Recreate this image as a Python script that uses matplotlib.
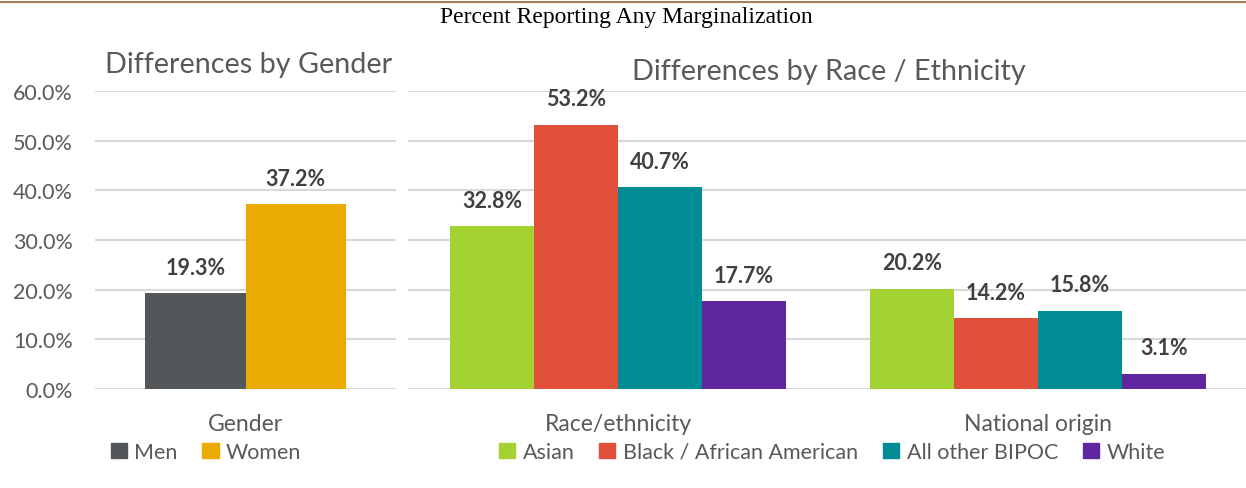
import matplotlib.pyplot as plt
from matplotlib.ticker import FuncFormatter
from matplotlib.patches import Patch

# Data
gender_category = ["Gender"]
gender_series = ["Men", "Women"]
men_values = [19.3]
women_values = [37.2]

race_categories = ["Race/ethnicity", "National origin"]
race_series = ["Asian", "Black / African American", "All other BIPOC", "White"]
asian_values = [32.8, 20.2]
black_values = [53.2, 14.2]
bipoc_values = [40.7, 15.8]
white_values = [17.7, 3.1]

yticks = [0, 10, 20, 30, 40, 50, 60]

gender_colors = ["#54575A", "#EAAA00"]
race_colors = ["#A4D233", "#E0503A", "#008C95", "#5E27A0"]

TEXT = "#595959"
GRID = "#D9D9D9"
FONT = "Lato"

W, H = 1246, 489
fig = plt.figure(figsize=(W / 100, H / 100), dpi=100)


def px_axes(x0, x1, y_top, y_bottom):
    return fig.add_axes([x0 / W, 1 - y_bottom / H, (x1 - x0) / W, (y_bottom - y_top) / H])


def style_axes(ax):
    ax.set_ylim(0, 60)
    ax.set_yticks(yticks)
    ax.grid(axis="y", color=GRID, linewidth=1.5)
    ax.set_axisbelow(True)
    for s in ax.spines.values():
        s.set_visible(False)
    ax.tick_params(length=0)
    ax.tick_params(axis="x", labelsize=16.5, labelcolor=TEXT, pad=17)


def label_bars(ax, bars, vals):
    for b, v in zip(bars, vals):
        ax.annotate(f"{v:.1f}%", (b.get_x() + b.get_width() / 2, v), xytext=(0, 11),
                    textcoords="offset points", ha="center", va="bottom",
                    fontsize=15.5, fontweight="bold", color="#404040", family=FONT)


# Left panel: gender
ax1 = px_axes(95, 396, 92, 390)
style_axes(ax1)
ax1.set_xlim(-0.5, 0.5)
bw = 0.333
for i, (vals, c) in enumerate(zip([men_values, women_values], gender_colors)):
    xs = [k + (i - 0.5) * bw for k in range(len(gender_category))]
    bars = ax1.bar(xs, vals, width=bw, color=c)
    label_bars(ax1, bars, vals)
ax1.set_xticks(range(len(gender_category)))
ax1.set_xticklabels(gender_category, family=FONT)
ax1.yaxis.set_major_formatter(FuncFormatter(lambda v, p: f"{v:.1f}%"))
ax1.tick_params(axis="y", labelsize=15.5, labelcolor=TEXT, pad=16)
for lab in ax1.get_yticklabels():
    lab.set_family(FONT)

# Right panel: race / ethnicity
ax2 = px_axes(408, 1248, 92, 390)
style_axes(ax2)
ax2.set_xlim(-0.5, 1.5)
bw = 0.2
all_vals = [asian_values, black_values, bipoc_values, white_values]
for i, (vals, c) in enumerate(zip(all_vals, race_colors)):
    xs = [k + (i - 1.5) * bw for k in range(len(race_categories))]
    bars = ax2.bar(xs, vals, width=bw, color=c)
    label_bars(ax2, bars, vals)
ax2.set_xticks(range(len(race_categories)))
ax2.set_xticklabels(race_categories, family=FONT)
ax2.set_yticklabels([])

# Titles
fig.text(626 / W, 1 - 18 / H, "Percent Reporting Any Marginalization", ha="center", va="center",
         fontsize=17, family="Liberation Serif", color="black")
fig.text(105 / W, 1 - 65 / H, "Differences by Gender", ha="left", va="center",
         fontsize=20.7, family=FONT, color=TEXT)
fig.text(632 / W, 1 - 72 / H, "Differences by Race / Ethnicity", ha="left", va="center",
         fontsize=20.7, family=FONT, color=TEXT)

# Legends
leg_kw = dict(loc="center", frameon=False, handlelength=0.75, handleheight=0.75,
              handletextpad=0.35, columnspacing=1.15, borderpad=0,
              prop={"family": FONT, "size": 15.5})
h1 = [Patch(color=c, label=l) for c, l in zip(gender_colors, gender_series)]
leg1 = fig.legend(handles=h1, ncol=2, bbox_to_anchor=(206 / W, 1 - 453 / H), **leg_kw)
h2 = [Patch(color=c, label=l) for c, l in zip(race_colors, race_series)]
leg2 = fig.legend(handles=h2, ncol=4, bbox_to_anchor=(832 / W, 1 - 453 / H), **leg_kw)
for leg in (leg1, leg2):
    for t in leg.get_texts():
        t.set_color(TEXT)

# Top rule
fig.add_artist(plt.Line2D([0, 1], [1 - 3 / H, 1 - 3 / H], color="#A0825A", linewidth=1.5))

fig.savefig("out.png", dpi=100)
